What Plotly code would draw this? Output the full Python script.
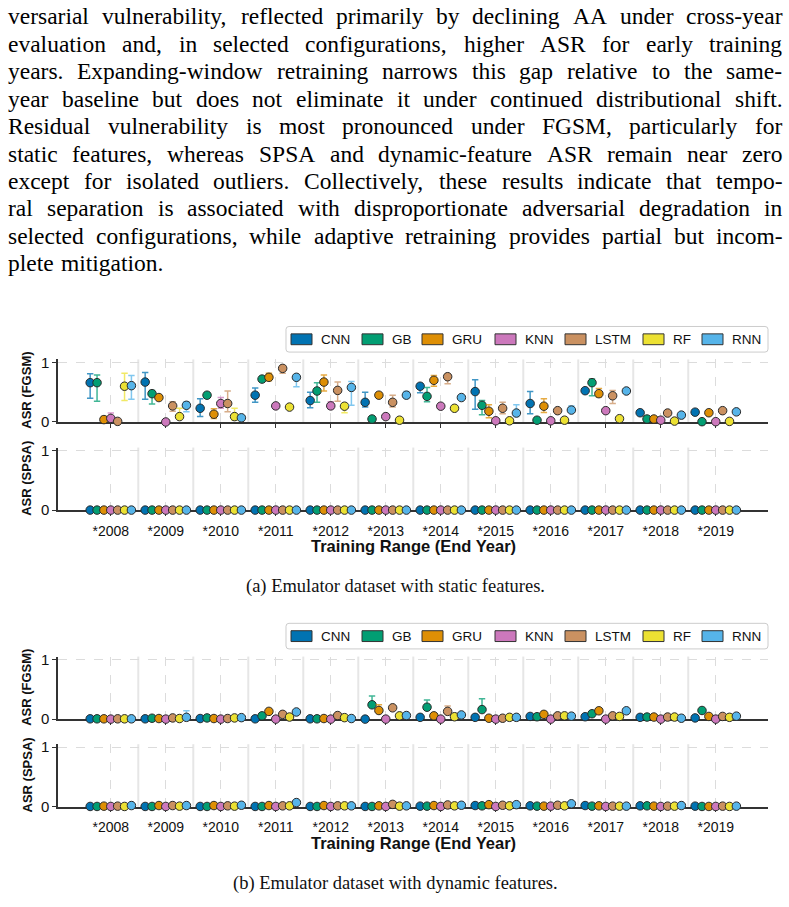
import plotly.graph_objects as go

# ---------------- data ----------------
YEARS = [2008, 2009, 2010, 2011, 2012, 2013, 2014, 2015, 2016, 2017, 2018, 2019]
TICK_LABELS = ["*2008", "*2009", "*2010", "*2011", "*2012", "*2013",
               "*2014", "*2015", "*2016", "*2017", "*2018", "*2019"]
MODELS = ["CNN", "GB", "GRU", "KNN", "LSTM", "RF", "RNN"]
COLORS = ["#0173B2", "#029E73", "#DE8F05", "#CC78BC", "#CA9161", "#ECE133", "#56B4E9"]

# (a) static features, FGSM ASR (mean, CI upper, CI lower)
S_FGSM_CNN = [0.66, 0.67, 0.23, 0.45, 0.36, 0.33, 0.60, 0.51, 0.31, 0.525, 0.155, 0.165]
S_FGSM_GB = [0.66, 0.475, 0.45, 0.72, 0.52, 0.05, 0.43, 0.28, 0.03, 0.66, 0.05, 0.005]
S_FGSM_GRU = [0.04, 0.41, 0.13, 0.75, 0.67, 0.45, 0.70, 0.18, 0.265, 0.475, 0.05, 0.155]
S_FGSM_KNN = [0.06, 0.0, 0.31, 0.27, 0.27, 0.09, 0.265, 0.02, 0.02, 0.19, 0.03, 0.005]
S_FGSM_LSTM = [0.01, 0.27, 0.31, 0.90, 0.53, 0.33, 0.76, 0.23, 0.19, 0.44, 0.15, 0.19]
S_FGSM_RF = [0.60, 0.09, 0.09, 0.25, 0.265, 0.03, 0.23, 0.02, 0.03, 0.055, 0.015, 0.01]
S_FGSM_RNN = [0.61, 0.28, 0.07, 0.75, 0.58, 0.45, 0.41, 0.15, 0.20, 0.52, 0.115, 0.17]

S_FGSM_CNN_HI = [0.81, 0.83, 0.39, 0.57, 0.50, 0.50, 0.64, 0.71, 0.51, None, None, None]
S_FGSM_CNN_LO = [0.40, 0.38, 0.09, 0.33, 0.24, 0.25, 0.49, 0.215, 0.14, None, None, None]
S_FGSM_GB_HI = [0.79, 0.53, None, None, 0.66, None, 0.58, 0.36, None, 0.72, None, None]
S_FGSM_GB_LO = [0.35, 0.30, None, None, 0.33, None, 0.34, 0.12, None, 0.44, None, None]
S_FGSM_GRU_HI = [0.09, None, 0.22, 0.82, 0.79, None, 0.78, 0.29, 0.39, 0.56, None, None]
S_FGSM_GRU_LO = [0.0, None, 0.06, 0.69, 0.52, None, 0.60, 0.07, 0.16, 0.42, None, None]
S_FGSM_KNN_HI = [0.15, None, 0.41, None, 0.34, None, None, None, None, None, None, None]
S_FGSM_KNN_LO = [0.0, None, 0.23, None, 0.22, None, None, None, None, None, None, None]
S_FGSM_LSTM_HI = [None, 0.34, 0.52, 0.94, 0.67, 0.45, 0.81, 0.33, None, 0.53, None, None]
S_FGSM_LSTM_LO = [None, 0.18, 0.17, 0.82, 0.35, 0.25, 0.64, 0.14, None, 0.31, None, None]
S_FGSM_RF_HI = [0.82, 0.23, 0.23, None, 0.31, None, None, None, None, None, None, None]
S_FGSM_RF_LO = [0.36, 0.06, 0.03, None, 0.155, None, None, None, None, None, None, None]
S_FGSM_RNN_HI = [0.78, 0.34, None, 0.78, 0.68, 0.51, None, 0.29, 0.27, None, None, None]
S_FGSM_RNN_LO = [0.38, 0.17, None, 0.59, 0.28, 0.40, None, 0.09, 0.17, None, None, None]

# (a) static features, SPSA ASR
S_SPSA_CNN = [0.0, 0.0, 0.0, 0.0, 0.0, 0.0, 0.0, 0.0, 0.0, 0.0, 0.0, 0.0]
S_SPSA_GB = [0.0, 0.0, 0.0, 0.0, 0.0, 0.0, 0.0, 0.0, 0.0, 0.0, 0.0, 0.0]
S_SPSA_GRU = [0.0, 0.0, 0.0, 0.0, 0.0, 0.0, 0.0, 0.0, 0.0, 0.0, 0.0, 0.0]
S_SPSA_KNN = [0.0, 0.0, 0.0, 0.0, 0.0, 0.0, 0.0, 0.0, 0.0, 0.0, 0.0, 0.0]
S_SPSA_LSTM = [0.0, 0.0, 0.0, 0.0, 0.0, 0.0, 0.0, 0.0, 0.0, 0.0, 0.0, 0.0]
S_SPSA_RF = [0.0, 0.0, 0.0, 0.0, 0.0, 0.0, 0.0, 0.0, 0.0, 0.0, 0.0, 0.0]
S_SPSA_RNN = [0.0, 0.0, 0.0, 0.0, 0.0, 0.0, 0.0, 0.0, 0.0, 0.0, 0.0, 0.0]

# (b) dynamic features, FGSM ASR
D_FGSM_CNN = [0.005, 0.005, 0.01, 0.005, 0.005, 0.0, 0.03, 0.03, 0.045, 0.04, 0.03, 0.02]
D_FGSM_GB = [0.005, 0.015, 0.02, 0.055, 0.005, 0.24, 0.20, 0.16, 0.04, 0.09, 0.035, 0.145]
D_FGSM_GRU = [0.005, 0.01, 0.01, 0.13, 0.01, 0.145, 0.055, 0.015, 0.08, 0.14, 0.035, 0.045]
D_FGSM_KNN = [0.0, 0.0, 0.0, 0.0, 0.0, 0.0, 0.0, 0.0, 0.0, 0.0, 0.0, 0.0]
D_FGSM_LSTM = [0.005, 0.02, 0.01, 0.08, 0.06, 0.19, 0.13, 0.015, 0.055, 0.055, 0.035, 0.045]
D_FGSM_RF = [0.005, 0.01, 0.02, 0.035, 0.025, 0.055, 0.04, 0.03, 0.055, 0.045, 0.035, 0.03]
D_FGSM_RNN = [0.005, 0.03, 0.025, 0.12, 0.01, 0.06, 0.07, 0.03, 0.05, 0.14, 0.015, 0.05]

D_FGSM_GB_HI = [None, None, None, None, None, 0.39, 0.32, 0.34, None, None, None, None]
D_FGSM_GRU_HI = [None, None, None, None, None, 0.24, None, None, None, None, None, None]
D_FGSM_LSTM_HI = [None, None, None, None, None, None, 0.22, None, None, None, None, None]
D_FGSM_RNN_HI = [None, 0.14, None, None, None, None, None, None, None, None, None, None]

# (b) dynamic features, SPSA ASR
D_SPSA_CNN = [0.005, 0.005, 0.005, 0.005, 0.005, 0.005, 0.01, 0.02, 0.015, 0.02, 0.015, 0.01]
D_SPSA_GB = [0.005, 0.005, 0.005, 0.005, 0.005, 0.005, 0.01, 0.015, 0.01, 0.01, 0.015, 0.005]
D_SPSA_GRU = [0.01, 0.02, 0.02, 0.02, 0.02, 0.015, 0.02, 0.035, 0.01, 0.015, 0.01, 0.005]
D_SPSA_KNN = [0.005, 0.005, 0.005, 0.005, 0.005, 0.005, 0.005, 0.005, 0.01, 0.005, 0.005, 0.005]
D_SPSA_LSTM = [0.01, 0.02, 0.015, 0.015, 0.015, 0.04, 0.03, 0.025, 0.025, 0.01, 0.01, 0.01]
D_SPSA_RF = [0.005, 0.01, 0.01, 0.015, 0.015, 0.01, 0.015, 0.015, 0.015, 0.01, 0.01, 0.005]
D_SPSA_RNN = [0.02, 0.02, 0.025, 0.07, 0.015, 0.015, 0.025, 0.035, 0.05, 0.01, 0.02, 0.01]

PARAGRAPH = [
    "versarial vulnerability, reflected primarily by declining AA under cross-year",
    "evaluation and, in selected configurations, higher ASR for early training",
    "years. Expanding-window retraining narrows this gap relative to the same-",
    "year baseline but does not eliminate it under continued distributional shift.",
    "Residual vulnerability is most pronounced under FGSM, particularly for",
    "static features, whereas SPSA and dynamic-feature ASR remain near zero",
    "except for isolated outliers. Collectively, these results indicate that tempo-",
    "ral separation is associated with disproportionate adversarial degradation in",
    "selected configurations, while adaptive retraining provides partial but incom-",
    "plete mitigation.",
]
CAPTIONS = ["(a) Emulator dataset with static features.",
            "(b) Emulator dataset with dynamic features."]
X_TITLE = "Training Range (End Year)"
Y_TITLES = ["ASR (FGSM)", "ASR (SPSA)"]

# ---------------- layout helpers ----------------
W, H = 789, 907
SANS = "Liberation Sans, Arial, sans-serif"
SERIF = "Liberation Serif, Times New Roman, serif"
SPINE = "#333333"
GRID = "#dcdcdc"
SEP = "#e6e6e6"
OFFSET = 0.125  # horizontal dodge between models (data units)


def px(x):
    return x / W


def py(y):
    return 1 - y / H


def rgba(hexc, a):
    h = hexc.lstrip("#")
    return "rgba(%d,%d,%d,%s)" % (int(h[0:2], 16), int(h[2:4], 16), int(h[4:6], 16), a)


def errs(vals, hi, lo):
    plus, minus = [], []
    for i, v in enumerate(vals):
        plus.append(0 if hi is None or hi[i] is None else max(hi[i] - v, 0))
        minus.append(0 if lo is None or lo[i] is None else max(v - lo[i], 0))
    return plus, minus


S_FGSM = [S_FGSM_CNN, S_FGSM_GB, S_FGSM_GRU, S_FGSM_KNN, S_FGSM_LSTM, S_FGSM_RF, S_FGSM_RNN]
S_FGSM_HI = [S_FGSM_CNN_HI, S_FGSM_GB_HI, S_FGSM_GRU_HI, S_FGSM_KNN_HI, S_FGSM_LSTM_HI, S_FGSM_RF_HI, S_FGSM_RNN_HI]
S_FGSM_LO = [S_FGSM_CNN_LO, S_FGSM_GB_LO, S_FGSM_GRU_LO, S_FGSM_KNN_LO, S_FGSM_LSTM_LO, S_FGSM_RF_LO, S_FGSM_RNN_LO]
S_SPSA = [S_SPSA_CNN, S_SPSA_GB, S_SPSA_GRU, S_SPSA_KNN, S_SPSA_LSTM, S_SPSA_RF, S_SPSA_RNN]
D_FGSM = [D_FGSM_CNN, D_FGSM_GB, D_FGSM_GRU, D_FGSM_KNN, D_FGSM_LSTM, D_FGSM_RF, D_FGSM_RNN]
D_FGSM_HI = [None, D_FGSM_GB_HI, D_FGSM_GRU_HI, None, D_FGSM_LSTM_HI, None, D_FGSM_RNN_HI]
D_SPSA = [D_SPSA_CNN, D_SPSA_GB, D_SPSA_GRU, D_SPSA_KNN, D_SPSA_LSTM, D_SPSA_RF, D_SPSA_RNN]

# panel definitions: (axis suffix, values, hi, lo, y-pixel of 0, show tick labels)
PANELS = [
    ("", S_FGSM, S_FGSM_HI, S_FGSM_LO, 422.5, False),
    ("2", S_SPSA, None, None, 512.0, True),
    ("3", D_FGSM, D_FGSM_HI, None, 724.3, False),
    ("4", D_SPSA, None, None, 813.3, True),
]
UNIT_PX = 60.5
YMAX = 1.05
X_LEFT, X_RIGHT = 58, 768
XR = [-0.96, 11.95]

fig = go.Figure()
shapes = []
annotations = []
layout_axes = {}

for p, (suf, series, his, los, y0px, show_labels) in enumerate(PANELS):
    xa, ya = "x" + suf, "y" + suf
    for mi, model in enumerate(MODELS):
        vals = series[mi]
        hi = his[mi] if his is not None else None
        lo = los[mi] if los is not None else None
        plus, minus = errs(vals, hi, lo)
        xs = [i + OFFSET * (mi - 3) for i in range(len(YEARS))]
        fig.add_trace(go.Scatter(
            x=xs, y=vals, mode="markers", xaxis=xa, yaxis=ya,
            name=model, showlegend=False, cliponaxis=False,
            marker=dict(size=8.5, color=COLORS[mi], line=dict(color="#2a2a2a", width=1)),
            error_y=dict(type="data", symmetric=False, array=plus, arrayminus=minus,
                         color=rgba(COLORS[mi], 0.75), thickness=1.5, width=3.2),
        ))
    top_px = y0px - YMAX * UNIT_PX
    dom_y = [py(y0px), py(top_px)]
    xkey = "xaxis" + suf
    ykey = "yaxis" + suf
    layout_axes[xkey] = dict(
        domain=[px(X_LEFT), px(X_RIGHT)], range=XR, anchor=ya,
        tickmode="array", tickvals=list(range(len(YEARS))), ticktext=TICK_LABELS,
        showticklabels=show_labels, ticks="outside", ticklen=4, tickwidth=1.2,
        tickcolor=SPINE, showline=True, linecolor=SPINE, linewidth=1.5,
        showgrid=True, gridcolor=GRID, griddash="dash", gridwidth=1,
        zeroline=False, layer="below traces", fixedrange=True,
        ticklabelstandoff=3,
        tickfont=dict(family=SANS, size=14, color="#111"),
    )
    layout_axes[ykey] = dict(
        domain=dom_y, range=[0, YMAX], anchor=xa,
        tickmode="array", tickvals=[0, 1], ticktext=["0", "1"],
        ticks="outside", ticklen=4, tickwidth=1.2, tickcolor=SPINE,
        showline=True, linecolor=SPINE, linewidth=1.5,
        showgrid=True, gridcolor=GRID, griddash="dash", gridwidth=1,
        zeroline=False, layer="below traces", fixedrange=True,
        tickfont=dict(family=SANS, size=15, color="#111"),
    )
    # vertical separators between year groups
    for i in range(len(YEARS) - 1):
        shapes.append(dict(type="line", xref=xa, yref=ya + " domain",
                           x0=i + 0.5, x1=i + 0.5, y0=0, y1=1,
                           line=dict(color=SEP, width=2), layer="below"))
    # y title
    annotations.append(dict(
        text="<b>%s</b>" % Y_TITLES[p % 2], x=px(27), y=py((y0px + top_px) / 2),
        xref="paper", yref="paper", showarrow=False, textangle=-90,
        xanchor="center", yanchor="middle",
        font=dict(family=SANS, size=13, color="#111")))

# per-figure legend, x-title, caption
LEG_PATCH_X = [291, 362, 422, 495, 565, 643, 702]
FIG_OFFS = [0, 301.5]
for f, off in enumerate(FIG_OFFS):
    lc = 338.5 + off
    x0, x1, y0, y1, r = 286, 768, lc - 13, lc + 13, 3
    path = ("M %f,%f L %f,%f Q %f,%f %f,%f L %f,%f Q %f,%f %f,%f L %f,%f Q %f,%f %f,%f "
            "L %f,%f Q %f,%f %f,%f Z") % (
        px(x0 + r), py(y0), px(x1 - r), py(y0), px(x1), py(y0), px(x1), py(y0 + r),
        px(x1), py(y1 - r), px(x1), py(y1), px(x1 - r), py(y1),
        px(x0 + r), py(y1), px(x0), py(y1), px(x0), py(y1 - r),
        px(x0), py(y0 + r), px(x0), py(y0), px(x0 + r), py(y0))
    shapes.append(dict(type="path", path=path, xref="paper", yref="paper",
                       line=dict(color="#cccccc", width=1), fillcolor="rgba(255,255,255,0.9)",
                       layer="above"))
    for mi, model in enumerate(MODELS):
        lx = LEG_PATCH_X[mi]
        shapes.append(dict(type="rect", xref="paper", yref="paper",
                           x0=px(lx), x1=px(lx + 21), y0=py(lc + 5.5), y1=py(lc - 5.5),
                           fillcolor=COLORS[mi], line=dict(color="#333333", width=1),
                           layer="above"))
        annotations.append(dict(text=model, x=px(lx + 30), y=py(lc), xref="paper", yref="paper",
                                showarrow=False, xanchor="left", yanchor="middle",
                                borderpad=0, borderwidth=0,
                                font=dict(family=SANS, size=13.5, color="#111")))
    annotations.append(dict(text="<b>%s</b>" % X_TITLE, x=px(413), y=py(548.3 + off),
                            xref="paper", yref="paper", showarrow=False,
                            xanchor="center", yanchor="middle",
                            font=dict(family=SANS, size=16.5, color="#111")))
    annotations.append(dict(text=CAPTIONS[f], x=px(395), y=py(589.5 + off),
                            xref="paper", yref="paper", showarrow=False,
                            xanchor="center", yanchor="middle",
                            font=dict(family=SERIF, size=18.5, color="#111")))

# justified paragraph (word-level placement using Times metrics)
TW = {' ': 250, ',': 250, '.': 250, '-': 333, '(': 333, ')': 333,
      'a': 444, 'b': 500, 'c': 444, 'd': 500, 'e': 444, 'f': 333, 'g': 500, 'h': 500,
      'i': 278, 'j': 278, 'k': 500, 'l': 278, 'm': 778, 'n': 500, 'o': 500, 'p': 500,
      'q': 500, 'r': 333, 's': 389, 't': 278, 'u': 500, 'v': 500, 'w': 722, 'x': 500,
      'y': 500, 'z': 444,
      'A': 722, 'B': 667, 'C': 667, 'D': 722, 'E': 611, 'F': 556, 'G': 722, 'H': 722,
      'I': 333, 'J': 389, 'K': 722, 'L': 611, 'M': 889, 'N': 722, 'O': 722, 'P': 556,
      'Q': 722, 'R': 667, 'S': 556, 'T': 611, 'U': 722, 'V': 722, 'W': 944, 'X': 722,
      'Y': 722, 'Z': 611}
PSIZE = 23.5
PL, PR = 8, 782.5


def wpx(word):
    return sum(TW.get(c, 500) for c in word) / 1000.0 * PSIZE


for k, line in enumerate(PARAGRAPH):
    base = 18.5 + 27.85 * k
    cy = base - 0.3375 * PSIZE
    words = line.split(" ")
    widths = [wpx(w) for w in words]
    if k < len(PARAGRAPH) - 1 and len(words) > 1:
        gap = (PR - PL - sum(widths)) / (len(words) - 1)
    else:
        gap = 0.3 * PSIZE
    x = PL
    for w, wd in zip(words, widths):
        annotations.append(dict(text=w, x=px(x), y=py(cy), xref="paper", yref="paper",
                                showarrow=False, xanchor="left", yanchor="middle",
                                borderpad=0, borderwidth=0,
                                font=dict(family=SERIF, size=PSIZE, color="#000")))
        x += wd + gap

fig.update_layout(
    width=W, height=H, autosize=False,
    margin=dict(l=0, r=0, t=0, b=0, pad=0),
    paper_bgcolor="white", plot_bgcolor="white",
    showlegend=False, shapes=shapes, annotations=annotations,
    **layout_axes,
)

fig.write_html("out.html", config={"displayModeBar": False},
               post_script="document.body.style.margin='0';document.body.style.overflow='hidden';")
